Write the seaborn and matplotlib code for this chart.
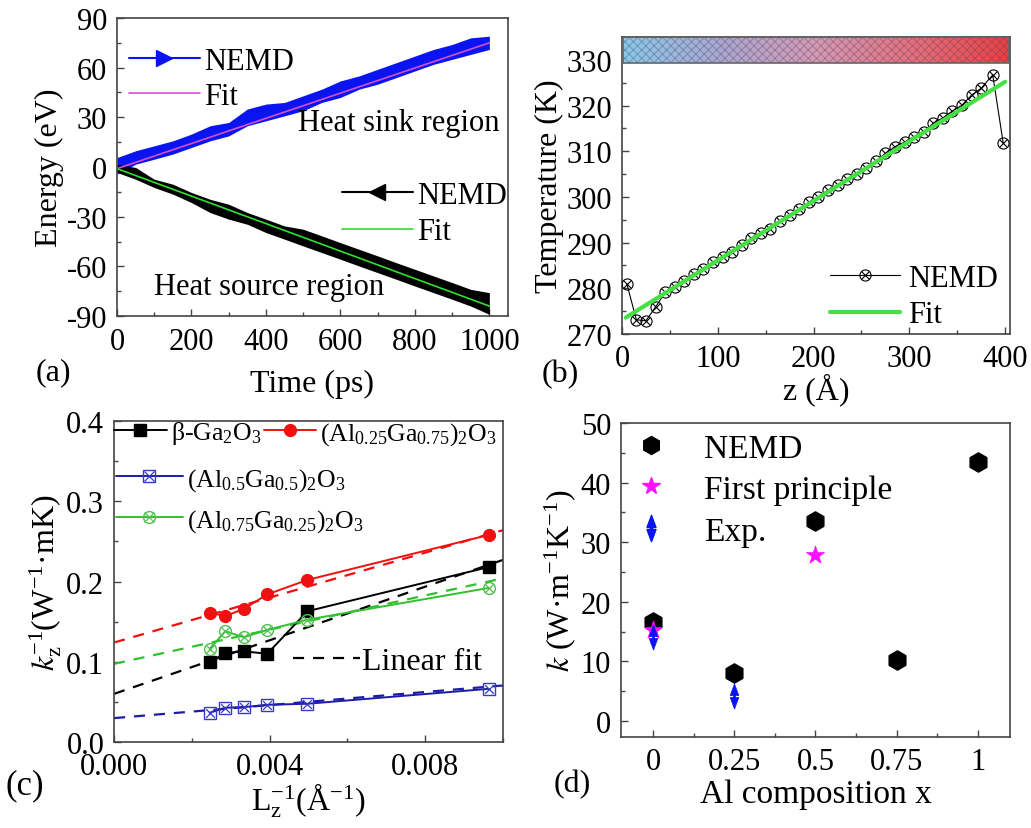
import numpy as np
import pandas as pd
import matplotlib
import matplotlib.pyplot as plt
import seaborn as sns
from matplotlib.lines import Line2D
from matplotlib.path import Path
from matplotlib.patches import Rectangle
from matplotlib.colors import LinearSegmentedColormap
from matplotlib.ticker import MultipleLocator
from matplotlib.legend_handler import HandlerTuple

# ---------------- data ----------------
# (a) energy vs time: envelopes of the noisy NEMD bands
t_env = [0, 50, 100, 150, 200, 250, 300, 350, 400, 450, 500, 550, 600, 650,
         700, 750, 800, 850, 900, 950, 1000]
sink_hi = [5.7, 9.8, 12.8, 15.8, 19.9, 24.9, 26.9, 35, 38, 39, 43, 47, 52, 55,
           59, 63, 67, 71, 74, 78, 79]
sink_lo = [-4.3, 1.7, 4.7, 7.8, 11.8, 15.8, 18.8, 24.9, 27.9, 30.9, 34, 39, 42,
           47, 50, 54, 58, 62, 65, 68, 71]
src_hi = [1.7, -0.3, -7.4, -10.4, -15.4, -19.5, -22.5, -27.5, -31.5, -35.6,
          -37.6, -41.6, -45.7, -49.7, -53.7, -57.8, -61.8, -65.8, -69.8, -73.9, -75.9]
src_lo = [-3.3, -7.4, -12.4, -16.4, -21.5, -27.5, -31.5, -34.6, -39.6, -43.6,
          -47.7, -51.7, -55.7, -59.8, -63.8, -67.8, -71.9, -75.9, -79.9, -84, -89]
fit_t = [0, 1000]
fit_sink = [-1, 75]
fit_src = [-1, -84]

# (b) temperature profile
z_pos = [5, 15, 25, 35, 45, 55, 65, 75, 85, 95, 105, 115, 125, 135, 145, 155,
         165, 175, 185, 195, 205, 215, 225, 235, 245, 255, 265, 275, 285, 295,
         305, 315, 325, 335, 345, 355, 365, 375, 387, 398]
temp = [281, 273.1, 272.9, 275.9, 279.1, 280.2, 281.7, 283.2, 284.3, 285.7,
        286.8, 287.9, 289.4, 290.9, 292, 293, 294.7, 296, 297.3, 298.8, 300,
        301.5, 302.6, 304, 305.1, 306.4, 307.8, 309.5, 311, 312, 313.2, 314.3,
        316.1, 317.3, 318.8, 320.1, 322.3, 323.8, 326.7, 311.7]
fit_z = [4, 400]
fit_temp = [273.6, 325.2]

# (c) inverse conductivity vs inverse length
inv_L = [0.00246, 0.00286, 0.00334, 0.00394, 0.00497, 0.00963]
k_ga2o3 = [0.0995, 0.111, 0.113, 0.110, 0.163, 0.218]
k_al025 = [0.161, 0.157, 0.166, 0.184, 0.202, 0.258]
k_al050 = [0.0365, 0.0427, 0.0435, 0.0464, 0.0477, 0.0663]
k_al075 = [0.116, 0.138, 0.1306, 0.1397, 0.1525, 0.192]
lin_x = [0.0, 0.01]
lin_ga2o3 = [0.060, 0.227]
lin_al025 = [0.124, 0.264]
lin_al050 = [0.0298, 0.0705]
lin_al075 = [0.0974, 0.204]

# (d) conductivity vs Al composition
nemd_x = [0, 0.25, 0.5, 0.75, 1]
nemd_k = [16.6, 8.0, 33.5, 10.3, 43.5]
fp_x = [0, 0.5]
fp_k = [15.3, 27.9]
exp_x = [0, 0.25]
exp_k = [14.1, 4.2]

# ---------------- style ----------------
sns.set_theme(style="ticks", font="Liberation Serif")
plt.rcParams['font.family'] = ['Liberation Serif', 'DejaVu Serif']
plt.rcParams['mathtext.fontset'] = 'stix'
plt.rcParams['mathtext.default'] = 'regular'
plt.rcParams['text.color'] = 'black'
plt.rcParams['axes.labelcolor'] = 'black'
plt.rcParams['xtick.direction'] = 'in'
plt.rcParams['ytick.direction'] = 'in'
plt.rcParams['xtick.major.size'] = 5
plt.rcParams['ytick.major.size'] = 5
plt.rcParams['xtick.minor.size'] = 3
plt.rcParams['ytick.minor.size'] = 3
plt.rcParams['axes.edgecolor'] = '#444444'
plt.rcParams['axes.linewidth'] = 1.2
plt.rcParams['xtick.color'] = '#444444'
plt.rcParams['ytick.color'] = '#444444'
plt.rcParams['hatch.linewidth'] = 0.6

SERIF = 'Liberation Serif'
FS_TICK = 22
FS_LAB = 23
FS_LEG = 22
TXT = dict(fontfamily=SERIF, math_fontfamily='stix', color='black')


def prop(size):
    return {'family': SERIF, 'size': size}


def set_ticks(ax, xt, xl, yt, yl):
    ax.set_xticks(xt)
    ax.set_xticklabels(xl, fontsize=FS_TICK, **TXT)
    ax.set_yticks(yt)
    ax.set_yticklabels(yl, fontsize=FS_TICK, **TXT)


def fix_legend(leg):
    for t in leg.get_texts():
        t.set_math_fontfamily('stix')
        t.set_color('black')
    return leg


fig = plt.figure(figsize=(10.31, 8.29), dpi=100)
ax_a = fig.add_axes([0.1135, 0.6176, 0.3792, 0.3595])
ax_b = fig.add_axes([0.6033, 0.5959, 0.3763, 0.3583])
ax_c = fig.add_axes([0.1106, 0.1037, 0.3773, 0.3872])
ax_d = fig.add_axes([0.6023, 0.1098, 0.3773, 0.3788])

for ax in (ax_a, ax_b, ax_c, ax_d):
    ax.tick_params(pad=7, width=1.0)
    ax.tick_params(which='minor', width=1.0)

# ---------------- (a) ----------------
ax_a.fill_between(t_env, sink_lo, sink_hi, color='#0a14f0', lw=0)
ax_a.fill_between(t_env, src_lo, src_hi, color='black', lw=0)
sns.lineplot(x=fit_t, y=fit_sink, ax=ax_a, color='#d050d0', lw=1.2)
sns.lineplot(x=fit_t, y=fit_src, ax=ax_a, color='#30e030', lw=1.2)
ax_a.set_xlim(0, 1050)
ax_a.set_ylim(-90, 90)
set_ticks(ax_a, [0, 200, 400, 600, 800, 1000], ['0', '200', '400', '600', '800', '1000'],
          [-90, -60, -30, 0, 30, 60, 90], ['-90', '-60', '-30', '0', '30', '60', '90'])
ax_a.tick_params(axis='x', pad=8)
ax_a.xaxis.set_minor_locator(MultipleLocator(100))
ax_a.yaxis.set_minor_locator(MultipleLocator(15))
ax_a.set_xlabel('Time (ps)', fontsize=FS_LAB, labelpad=9, **TXT)
ax_a.set_ylabel('Energy (eV)', fontsize=FS_LAB, labelpad=2, **TXT)
ax_a.text(487, 27, 'Heat sink region', fontsize=FS_LEG, va='center', ha='left', **TXT)
ax_a.text(98, -72, 'Heat source region', fontsize=FS_LEG, va='center', ha='left', **TXT)
h1 = [Line2D([], [], color='#0a14f0', lw=1.5, marker='>', ms=11),
      Line2D([], [], color='#d050d0', lw=1.2)]
leg1 = ax_a.legend(h1, ['NEMD', 'Fit'], loc='upper left', bbox_to_anchor=(0.0, 0.945),
                   frameon=False, prop=prop(FS_LEG), handlelength=2.3, numpoints=1,
                   handletextpad=0.15, labelspacing=0.2, borderaxespad=0.0)
fix_legend(leg1)
ax_a.add_artist(leg1)
h2 = [Line2D([], [], color='black', lw=1.5, marker='<', ms=11),
      Line2D([], [], color='#30e030', lw=1.2)]
leg2 = ax_a.legend(h2, ['NEMD', 'Fit'], loc='upper left', bbox_to_anchor=(0.545, 0.495),
                   frameon=False, prop=prop(FS_LEG), handlelength=2.3, numpoints=1,
                   handletextpad=0.15, labelspacing=0.25, borderaxespad=0.0)
fix_legend(leg2)

# ---------------- (b) ----------------
bar_cmap = LinearSegmentedColormap.from_list(
    'bar', ['#86cbe8', '#a8a8d0', '#d49ab4', '#e4707c', '#e84040'])
ax_b.imshow(np.linspace(0, 1, 256).reshape(1, -1), cmap=bar_cmap, aspect='auto',
            extent=[1, 404, 329.2, 335], zorder=1)
ax_b.add_patch(Rectangle((1, 329.2), 403, 5.8, fill=False, hatch='xxxx',
                         edgecolor=(0.35, 0.25, 0.4, 0.45), lw=0, zorder=2))
ax_b.add_patch(Rectangle((1, 329.2), 403, 5.8, fill=False,
                         edgecolor='#666666', lw=1.2, zorder=3))
sns.lineplot(x=z_pos, y=temp, ax=ax_b, color='black', lw=0.8, marker='o',
             ms=8, mfc='none', mec='black', mew=0.8, zorder=4)
ax_b.scatter(z_pos, temp, marker='x', s=30, color='black', lw=0.8, zorder=4)
sns.lineplot(x=fit_z, y=fit_temp, ax=ax_b, color='#44e044', lw=3.0, zorder=5)
ax_b.set_xlim(0, 405)
ax_b.set_ylim(270, 335)
set_ticks(ax_b, [0, 100, 200, 300, 400], ['0', '100', '200', '300', '400'],
          [270, 280, 290, 300, 310, 320, 330],
          ['270', '280', '290', '300', '310', '320', '330'])
ax_b.xaxis.set_minor_locator(MultipleLocator(50))
ax_b.yaxis.set_minor_locator(MultipleLocator(5))
ax_b.set_xlabel('z (Å)', fontsize=FS_LAB, labelpad=0, **TXT)
ax_b.set_ylabel('Temperature (K)', fontsize=FS_LAB, labelpad=2, **TXT)
hm = {tuple: HandlerTuple(ndivide=1)}
hb = [(Line2D([], [], color='black', lw=0.8, marker='o', ms=8, mfc='none', mew=0.8),
       Line2D([], [], color='none', marker='x', ms=6, mec='black', mew=0.8)),
      Line2D([], [], color='#44e044', lw=3.0)]
legb = ax_b.legend(hb, ['NEMD', 'Fit'], loc='lower right', bbox_to_anchor=(1.0, -0.025),
                   frameon=False, prop=prop(FS_LEG), handlelength=2.3, handletextpad=0.25,
                   labelspacing=0.25, handler_map=hm, borderaxespad=0.0)
fix_legend(legb)

# ---------------- (c) ----------------
series_c = [
    (k_ga2o3, lin_ga2o3, 'black', 's', 'black', None),
    (k_al025, lin_al025, '#f01010', 'o', '#f01010', None),
    (k_al050, lin_al050, '#1c1ca8', 's', 'none', '#3838c8'),
    (k_al075, lin_al075, '#30c030', 'o', 'none', '#50c050'),
]
for kv, lv, col, mk, mfc, cross in series_c:
    sns.lineplot(x=lin_x, y=lv, ax=ax_c, color=col, lw=1.6, ls=(0, (5, 4)), zorder=2)
for kv, lv, col, mk, mfc, cross in series_c:
    sns.lineplot(x=inv_L, y=kv, ax=ax_c, color=col, lw=1.4, marker=mk, ms=8.5,
                 mfc=mfc, mec=cross if cross else col, mew=1.0, zorder=3)
    if cross:
        ax_c.scatter(inv_L, kv, marker='x', s=40, color=cross, lw=0.9, zorder=4)
ax_c.set_xlim(0, 0.01)
ax_c.set_ylim(0, 0.4)
set_ticks(ax_c, [0, 0.004, 0.008], ['0.000', '0.004', '0.008'],
          [0, 0.1, 0.2, 0.3, 0.4], ['0.0', '0.1', '0.2', '0.3', '0.4'])
ax_c.xaxis.set_minor_locator(MultipleLocator(0.002))
ax_c.yaxis.set_minor_locator(MultipleLocator(0.05))
ax_c.set_xlabel(r'L$_\mathregular{z}^\mathregular{-1}$(Å$^\mathregular{-1}$)',
                fontsize=FS_LAB, labelpad=0, **TXT)
ax_c.set_ylabel(r'$\mathit{k}_\mathregular{z}^\mathregular{-1}$(W$^\mathregular{-1}$·mK)',
                fontsize=FS_LAB, labelpad=2, **TXT)


def hc(col, mk, mfc, cross):
    base = Line2D([], [], color=col, lw=1.4, marker=mk, ms=8.5, mfc=mfc,
                  mec=cross if cross else col, mew=1.0)
    if cross:
        return (base, Line2D([], [], color='none', marker='x', ms=6.5, mec=cross, mew=0.9))
    return base


FS_C = 18.5
legc1 = ax_c.legend([hc('black', 's', 'black', None), hc('#f01010', 'o', '#f01010', None)],
                    [r'β-Ga$_\mathregular{2}$O$_\mathregular{3}$',
                     r'(Al$_\mathregular{0.25}$Ga$_\mathregular{0.75}$)$_\mathregular{2}$O$_\mathregular{3}$'],
                    loc='upper left', bbox_to_anchor=(0.0, 1.005), ncol=2, frameon=False,
                    prop=prop(FS_C), handlelength=2.05, handletextpad=0.15,
                    columnspacing=0.1, handler_map=hm, borderaxespad=0.0, borderpad=0.0)
fix_legend(legc1)
ax_c.add_artist(legc1)
legc2 = ax_c.legend([hc('#1c1ca8', 's', 'none', '#3838c8'), hc('#30c030', 'o', 'none', '#50c050')],
                    [r'(Al$_\mathregular{0.5}$Ga$_\mathregular{0.5}$)$_\mathregular{2}$O$_\mathregular{3}$',
                     r'(Al$_\mathregular{0.75}$Ga$_\mathregular{0.25}$)$_\mathregular{2}$O$_\mathregular{3}$'],
                    loc='upper left', bbox_to_anchor=(0.005, 0.86), frameon=False,
                    prop=prop(FS_C), handlelength=2.6, handletextpad=0.15,
                    labelspacing=0.55, handler_map=hm, borderaxespad=0.0, borderpad=0.0)
fix_legend(legc2)
ax_c.add_artist(legc2)
legc3 = ax_c.legend([Line2D([], [], color='black', lw=1.6, ls=(0, (5, 4)))], ['Linear fit'],
                    loc='upper left', bbox_to_anchor=(0.46, 0.298), frameon=False,
                    prop=prop(FS_LEG + 1), handlelength=2.1, handletextpad=0.05,
                    borderaxespad=0.0, borderpad=0.0)
fix_legend(legc3)

# ---------------- (d) ----------------
arrow_verts = [(-0.34, 0.08), (0.34, 0.08), (0.0, 1.0), (-0.34, 0.08),
               (-0.08, -0.1), (0.08, -0.1), (0.08, 0.1), (-0.08, 0.1), (-0.08, -0.1),
               (-0.34, -0.08), (0.34, -0.08), (0.0, -1.0), (-0.34, -0.08)]
arrow_codes = [Path.MOVETO, Path.LINETO, Path.LINETO, Path.CLOSEPOLY,
               Path.MOVETO, Path.LINETO, Path.LINETO, Path.LINETO, Path.CLOSEPOLY,
               Path.MOVETO, Path.LINETO, Path.LINETO, Path.CLOSEPOLY]
double_arrow = Path(arrow_verts, arrow_codes)

sns.scatterplot(x=nemd_x, y=nemd_k, ax=ax_d, marker='h', s=190, color='black',
                edgecolor='black', zorder=3)
sns.scatterplot(x=fp_x, y=fp_k, ax=ax_d, marker='*', s=190, color='#ff10ff',
                edgecolor='#ff10ff', linewidth=0.5, zorder=4)
sns.scatterplot(x=exp_x, y=exp_k, ax=ax_d, marker=double_arrow, s=330, color='#0a14f0',
                edgecolor='#0a14f0', linewidth=0.5, zorder=5)
ax_d.set_xlim(-0.1, 1.1)
ax_d.set_ylim(-2.7, 50)
set_ticks(ax_d, [0, 0.25, 0.5, 0.75, 1], ['0', '0.25', '0.5', '0.75', '1'],
          [0, 10, 20, 30, 40, 50], ['0', '10', '20', '30', '40', '50'])
ax_d.xaxis.set_minor_locator(MultipleLocator(0.125))
ax_d.yaxis.set_minor_locator(MultipleLocator(5))
ax_d.set_xlabel('Al composition x', fontsize=FS_LAB + 1, labelpad=2, **TXT)
ax_d.set_ylabel(r'$\mathit{k}$ (W·m$^\mathregular{-1}$K$^\mathregular{-1}$)',
                fontsize=FS_LAB, labelpad=2, **TXT)
hd = [Line2D([], [], ls='none', marker='h', ms=13, color='black'),
      Line2D([], [], ls='none', marker='*', ms=13, color='#ff10ff'),
      Line2D([], [], ls='none', marker=double_arrow, ms=19, color='#0a14f0')]
legd = ax_d.legend(hd, ['NEMD', 'First principle', 'Exp.'], loc='upper left',
                   bbox_to_anchor=(0.0, 1.01), frameon=False, prop=prop(FS_LEG + 2),
                   handlelength=1.0, handletextpad=1.1, labelspacing=0.33, borderaxespad=0.0)
fix_legend(legd)

# panel labels
fig.text(0.052, 0.551, '(a)', fontsize=FS_LAB, ha='center', va='center', **TXT)
fig.text(0.543, 0.548, '(b)', fontsize=FS_LAB, ha='center', va='center', **TXT)
fig.text(0.024, 0.052, '(c)', fontsize=FS_LAB + 2, ha='center', va='center', **TXT)
fig.text(0.555, 0.053, '(d)', fontsize=FS_LAB, ha='center', va='center', **TXT)

fig.savefig('out.png', dpi=100)
